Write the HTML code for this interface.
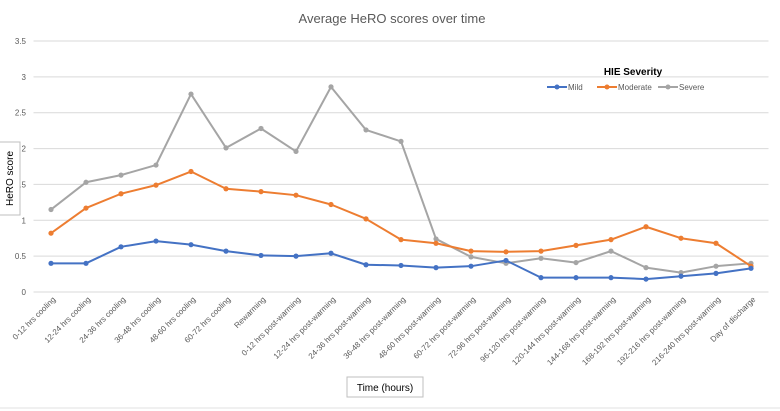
<!DOCTYPE html>
<html><head><meta charset="utf-8"><style>
body{margin:0;background:#fff;}
svg{display:block;font-family:"Liberation Sans",sans-serif;}
</style></head><body>
<svg id="chart" width="780" height="411">
<text x="392" y="23" text-anchor="middle" font-size="13" fill="#595959">Average HeRO scores over time</text>
<g id="grid"></g><g id="xlabels"></g><g id="series"></g>
<g>
<rect x="-1" y="142" width="21" height="73" fill="#fff" stroke="#bfbfbf"/>
<text x="13" y="178.5" transform="rotate(-90 13 178.5)" text-anchor="middle" font-size="10" fill="#000">HeRO score</text>
</g>
<g>
<rect x="347" y="377" width="76" height="20" fill="#fff" stroke="#bfbfbf"/>
<text x="385" y="391" text-anchor="middle" font-size="10" fill="#000">Time (hours)</text>
</g>
<text x="633" y="75" text-anchor="middle" font-size="10" font-weight="bold" fill="#000">HIE Severity</text>
<g id="legend"></g>
<line x1="0" y1="408" x2="780" y2="408" stroke="#e0e0e0"/>
</svg>
<script>
const categories=["0-12 hrs cooling","12-24 hrs cooling","24-36 hrs cooling","36-48 hrs cooling","48-60 hrs cooling","60-72 hrs cooling","Rewarming","0-12 hrs post-warming","12-24 hrs post-warming","24-36 hrs post-warming","36-48 hrs post-warming","48-60 hrs post-warming","60-72 hrs post-warming","72-96 hrs post-warming","96-120 hrs post-warming","120-144 hrs post-warming","144-168 hrs post-warming","168-192 hrs post-warming","192-216 hrs post-warming","216-240 hrs post-warming","Day of discharge"];
const mild=[0.40,0.40,0.63,0.71,0.66,0.57,0.51,0.50,0.54,0.38,0.37,0.34,0.36,0.44,0.20,0.20,0.20,0.18,0.22,0.26,0.33];
const moderate=[0.82,1.17,1.37,1.49,1.68,1.44,1.40,1.35,1.22,1.02,0.73,0.68,0.57,0.56,0.57,0.65,0.73,0.91,0.75,0.68,0.36];
const severe=[1.15,1.53,1.63,1.77,2.76,2.01,2.28,1.96,2.86,2.26,2.10,0.74,0.49,0.40,0.47,0.41,0.57,0.34,0.27,0.36,0.40];
const yTicks=[0,0.5,1,1.5,2,2.5,3,3.5];
const yTickLabels=["0","0.5","1","1.5","2","2.5","3","3.5"];
const NS="http://www.w3.org/2000/svg";
const x0=33.5,x1=768.5,y0=292,yTop=41,yMax=3.5;
const step=(x1-x0)/categories.length;
function xs(i){return x0+step*(i+0.5);}
function ys(v){return y0-(v/yMax)*(y0-yTop);}
function mk(t,a,p){const e=document.createElementNS(NS,t);for(const k in a)e.setAttribute(k,a[k]);p.appendChild(e);return e;}
const grid=document.getElementById('grid');
yTicks.forEach((t,i)=>{
  const l=mk('line',{x1:x0,x2:x1,y1:ys(t),y2:ys(t),stroke:'#d9d9d9','stroke-width':1},grid);
  
  
  const tx=mk('text',{x:26,y:ys(t)+3,'text-anchor':'end','font-size':8,fill:'#595959'},grid);
  tx.textContent=yTickLabels[i];
  
  
});
const xl=document.getElementById('xlabels');
categories.forEach((c,i)=>{
  const x=xs(i)+5,y=300;
  const t=mk('text',{x:x,y:y,transform:`rotate(-45 ${x} ${y})`,'text-anchor':'end','font-size':8,fill:'#595959'},xl);
  t.textContent=c;
  
  
});
const sg=document.getElementById('series');
const defs=[["mild",mild,"#4472c4"],["moderate",moderate,"#ed7d31"],["severe",severe,"#a5a5a5"]];
defs.slice().reverse().forEach(([n,d,c])=>{
  const g=mk('g',{},sg);
  
  
  const p=mk('polyline',{points:d.map((v,i)=>xs(i)+','+ys(v)).join(' '),fill:'none',stroke:c,'stroke-width':2,'stroke-linejoin':'round'},g);
  
  
  d.forEach((v,i)=>{
    const m=mk('circle',{cx:xs(i),cy:ys(v),r:2.6,fill:c},g);
    
    
  });
});
const lg=document.getElementById('legend');
const lx=[547,597,658],lab=["Mild","Moderate","Severe"];
defs.forEach(([n,d,c],i)=>{
  const g=mk('g',{},lg);
  
  
  mk('line',{x1:lx[i],x2:lx[i]+20,y1:87,y2:87,stroke:c,'stroke-width':2},g);
  mk('circle',{cx:lx[i]+10,cy:87,r:2.5,fill:c},g);
  const t=mk('text',{x:lx[i]+21,y:90,'font-size':8,fill:'#595959'},g);
  t.textContent=lab[i];
});
</script>
</body></html>
